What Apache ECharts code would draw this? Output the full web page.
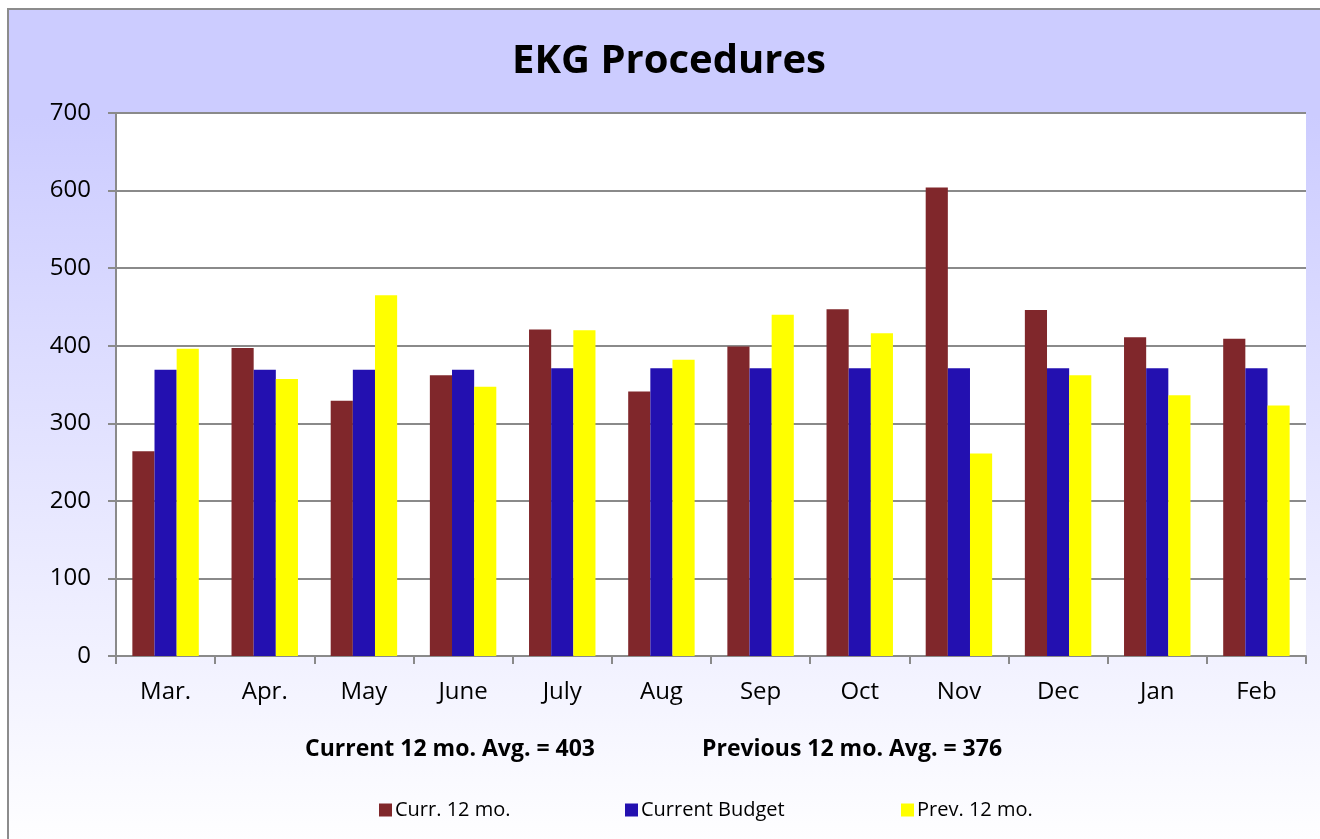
<!DOCTYPE html>
<html>
<head>
<meta charset="utf-8">
<title>EKG Procedures</title>
<script src="https://cdn.jsdelivr.net/npm/echarts@6/dist/echarts.min.js"></script>
<style>
  html, body { margin: 0; padding: 0; background: #fff; }
  #wrap { position: relative; width: 1320px; height: 839px; overflow: hidden; }
  #box {
    position: absolute; left: 7px; top: 8px; width: 1340px; height: 860px;
    border: 2px solid #8c8c8c; box-sizing: border-box;
    background: linear-gradient(to bottom, #ccccff 0px, #ccccff 105px, #fefeff 830px);
  }
  #chart { position: absolute; left: 0; top: 0; width: 1320px; height: 839px; }
</style>
</head>
<body>
<div id="wrap">
  <div id="box"></div>
  <div id="chart"></div>
</div>
<script>
const months = ['Mar.', 'Apr.', 'May', 'June', 'July', 'Aug', 'Sep', 'Oct', 'Nov', 'Dec', 'Jan', 'Feb'];
const curr12 = [264, 397, 329, 362, 421, 341, 399, 447, 604, 446, 411, 409];
const budget = [369, 369, 369, 369, 371, 371, 371, 371, 371, 371, 371, 371];
const prev12 = [396, 357, 465, 347, 420, 382, 440, 416, 261, 362, 336, 323];
const seriesNames = ['Curr. 12 mo.', 'Current Budget', 'Prev. 12 mo.'];
const colors = ['#80272b', '#2310b0', '#ffff00'];
const avgTexts = ['Current 12 mo. Avg. = 403', 'Previous 12 mo. Avg. = 376'];

const font = '"Open Sans", "Noto Sans", sans-serif';
const chart = echarts.init(document.getElementById('chart'), null, { renderer: 'canvas' });

// one legend per series so each sits where it does in the picture
const legendLeft = [374, 620, 896];
const legends = seriesNames.map((name, i) => ({
  data: [name],
  left: legendLeft[i],
  top: 795,
  icon: 'rect',
  itemWidth: 13,
  itemHeight: 13,
  itemGap: 0,
  textStyle: { fontFamily: font, fontSize: 20, color: '#000', padding: [0, 0, 0, -2] }
}));

const option = {
  backgroundColor: 'transparent',
  color: colors,
  animation: false,
  title: {
    text: 'EKG Procedures',
    left: 664,
    textAlign: 'center',
    top: 37,
    textStyle: { fontFamily: font, fontSize: 40, fontWeight: 'bold', color: '#000' }
  },
  legend: legends,
  graphic: [
    {
      type: 'text', left: 305, top: 738,
      style: { text: avgTexts[0], font: 'bold 23px ' + font, fill: '#000' }
    },
    {
      type: 'text', left: 702, top: 738,
      style: { text: avgTexts[1], font: 'bold 23px ' + font, fill: '#000' }
    }
  ],
  grid: {
    left: 116, top: 113, right: 14, bottom: 183,
    show: true, backgroundColor: '#fff', borderWidth: 0
  },
  xAxis: {
    type: 'category',
    data: months,
    axisLine: { lineStyle: { color: '#8a8a8a', width: 2 } },
    axisTick: { show: true, length: 8, lineStyle: { color: '#8a8a8a', width: 2 } },
    axisLabel: { fontFamily: font, fontSize: 24, color: '#000', margin: 24 }
  },
  yAxis: {
    type: 'value',
    min: 0,
    max: 700,
    interval: 100,
    axisLine: { show: true, lineStyle: { color: '#8a8a8a', width: 2 } },
    axisTick: { show: true, length: 8, lineStyle: { color: '#8a8a8a', width: 2 } },
    axisLabel: { fontFamily: font, fontSize: 24, color: '#000', margin: 25 },
    splitLine: { lineStyle: { color: '#8a8a8a', width: 2 } }
  },
  series: [
    { name: seriesNames[0], type: 'bar', data: curr12, barGap: '0%', barCategoryGap: '33%' },
    { name: seriesNames[1], type: 'bar', data: budget, barGap: '0%', barCategoryGap: '33%' },
    { name: seriesNames[2], type: 'bar', data: prev12, barGap: '0%', barCategoryGap: '33%' }
  ]
};

chart.setOption(option);
</script>
</body>
</html>
